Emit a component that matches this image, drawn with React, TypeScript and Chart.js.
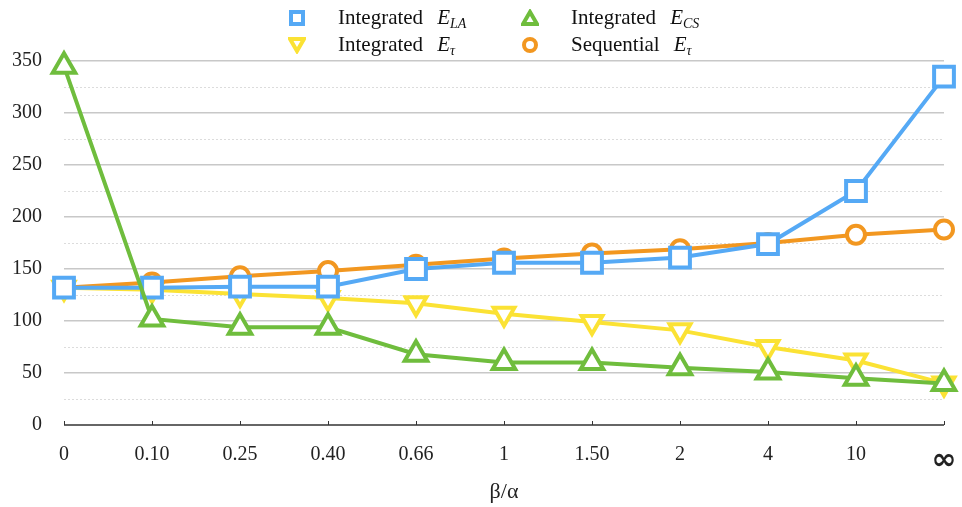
import React, { useEffect, useRef } from "react";
import { Chart, registerables } from "chart.js";

Chart.register(...registerables);

const categories = ["0", "0.10", "0.25", "0.40", "0.66", "1", "1.50", "2", "4", "10", "∞"];
const integratedLA = [132, 132, 133, 133, 150, 156, 156, 161, 174, 225, 335];
const integratedCS = [345, 102, 94, 94, 68, 60, 60, 55, 51, 45, 40];
const integratedTau = [132, 130, 126, 122, 117, 107, 99, 91, 75, 62, 40];
const sequentialTau = [132, 137, 143, 148, 154, 160, 165, 169, 175, 183, 188];
const yTicks = [0, 50, 100, 150, 200, 250, 300, 350];
const yMinorTicks = [25, 75, 125, 175, 225, 275, 325];

const BLUE = "#55a9f5";
const GREEN = "#6fbd3d";
const YELLOW = "#fbe234";
const ORANGE = "#f29720";
const FONT = "'Liberation Serif', 'DejaVu Serif', serif";

const decorPlugin = {
  id: "decor",
  beforeDatasetsDraw(chart: any) {
    const { ctx, chartArea, scales } = chart;
    const y = scales.y;
    ctx.save();
    ctx.strokeStyle = "#dcdcdc";
    ctx.lineWidth = 1;
    ctx.setLineDash([2, 2]);
    yMinorTicks.forEach((v) => {
      const py = Math.round(y.getPixelForValue(v)) + 0.5;
      ctx.beginPath();
      ctx.moveTo(chartArea.left, py);
      ctx.lineTo(chartArea.right, py);
      ctx.stroke();
    });
    ctx.setLineDash([]);
    const x = scales.x;
    const base = y.getPixelForValue(0);
    ctx.strokeStyle = "#333";
    ctx.lineWidth = 1.5;
    ctx.beginPath();
    ctx.moveTo(chartArea.left, base);
    ctx.lineTo(chartArea.right, base);
    ctx.stroke();
    ctx.lineWidth = 1;
    categories.forEach((_, i) => {
      const px = Math.round(x.getPixelForTick(i)) + 0.5;
      ctx.beginPath();
      ctx.moveTo(px, base);
      ctx.lineTo(px, base - 4);
      ctx.stroke();
    });
    ctx.restore();
  },
};

function Marker({ kind, color }: { kind: string; color: string }) {
  let shape: any = null;
  if (kind === "rect") shape = <rect x={3} y={3} width={12} height={12} fill="#fff" stroke={color} strokeWidth={4} />;
  if (kind === "tri") shape = <polygon points="9,3 16,15 2,15" fill="#fff" stroke={color} strokeWidth={4} />;
  if (kind === "tridown") shape = <polygon points="2,3 16,3 9,15" fill="#fff" stroke={color} strokeWidth={4} />;
  if (kind === "circle") shape = <circle cx={9} cy={9} r={6} fill="#fff" stroke={color} strokeWidth={4} />;
  return (
    <svg width={18} height={18} style={{ position: "absolute", left: -9, top: -9 }}>
      {shape}
    </svg>
  );
}

function LegendItem({ x, y, kind, color, label, sym, sub }: any) {
  return (
    <div style={{ position: "absolute", left: x, top: y, height: 0 }}>
      <Marker kind={kind} color={color} />
      <div
        style={{
          position: "absolute",
          left: 41,
          top: -14,
          whiteSpace: "nowrap",
          fontFamily: FONT,
          fontSize: 21,
          lineHeight: "26px",
          color: "#111",
        }}
      >
        {label}
        <span style={{ marginLeft: 14, fontStyle: "italic" }}>{sym}</span>
        <sub style={{ fontStyle: "italic", fontSize: 14, verticalAlign: "-4px" }}>{sub}</sub>
      </div>
    </div>
  );
}

export default function App() {
  const ref = useRef<HTMLCanvasElement>(null);
  useEffect(() => {
    document.body.style.margin = "0";
    const mk = (label: string, data: number[], color: string, style: string, radius: number, rot: number, order: number) => ({
      label,
      data,
      borderColor: color,
      backgroundColor: "#fff",
      borderWidth: 4,
      pointStyle: style,
      pointRadius: radius,
      pointRotation: rot,
      pointBorderWidth: 4,
      pointBackgroundColor: "#fff",
      pointBorderColor: color,
      tension: 0,
      clip: false as any,
      order,
    });
    const chart = new Chart(ref.current!, {
      type: "line",
      data: {
        labels: categories,
        datasets: [
          mk("Integrated E_tau", integratedTau, YELLOW, "triangle", 12, 180, 4),
          mk("Sequential E_tau", sequentialTau, ORANGE, "circle", 9, 0, 3),
          mk("Integrated E_LA", integratedLA, BLUE, "rect", 14, 0, 2),
          mk("Integrated E_CS", integratedCS, GREEN, "triangle", 13, 0, 1),
        ],
      },
      options: {
        animation: false,
        responsive: false,
        layout: { padding: { top: 61, right: 12, left: 0, bottom: 2 } },
        plugins: { legend: { display: false }, tooltip: { enabled: false } },
        scales: {
          x: {
            offset: false,
            grid: { display: false },
            border: { display: false },
            afterFit: (scale: any) => {
              scale.height = 80;
              scale.paddingRight = 0;
              scale.paddingLeft = 0;
            },
            ticks: {
              color: "#222",
              padding: 10,
              maxRotation: 0,
              autoSkip: false,
              font: (ctx: any) =>
                ctx.index === categories.length - 1
                  ? { family: "'DejaVu Sans', sans-serif", size: 30, weight: "bold" }
                  : { family: FONT, size: 20 },
            },
            title: {
              display: true,
              text: "β/α",
              color: "#222",
              font: { family: FONT, size: 22 },
              padding: { top: 4, bottom: 0 },
            },
          },
          y: {
            min: 0,
            max: 350,
            afterFit: (scale: any) => {
              scale.width = 64;
            },
            afterBuildTicks: (scale: any) => {
              scale.ticks = yTicks.map((v) => ({ value: v }));
            },
            grid: {
              drawTicks: false,
              color: (ctx: any) => (ctx.tick && ctx.tick.value === 0 ? "rgba(0,0,0,0)" : "#c8c8c8"),
              lineWidth: 1.5,
            },
            border: { display: false },
            ticks: {
              color: "#222",
              padding: 22,
              font: { family: FONT, size: 20 },
            },
          },
        },
      },
      plugins: [decorPlugin],
    });
    return () => chart.destroy();
  }, []);
  return (
    <div style={{ position: "relative", width: 962, height: 507, background: "#fff" }}>
      <canvas ref={ref} width={962} height={507} style={{ display: "block" }} />
      <LegendItem x={297} y={18} kind="rect" color={BLUE} label="Integrated" sym="E" sub="LA" />
      <LegendItem x={530} y={18} kind="tri" color={GREEN} label="Integrated" sym="E" sub="CS" />
      <LegendItem x={297} y={45} kind="tridown" color={YELLOW} label="Integrated" sym="E" sub="τ" />
      <LegendItem x={530} y={45} kind="circle" color={ORANGE} label="Sequential" sym="E" sub="τ" />
    </div>
  );
}
